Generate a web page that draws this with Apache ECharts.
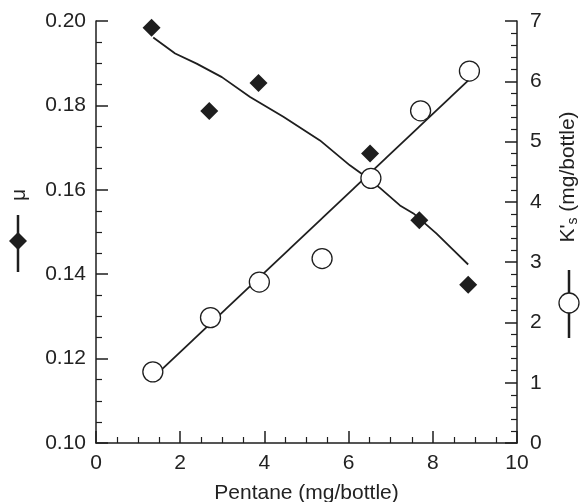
<!DOCTYPE html>
<html>
<head>
<meta charset="utf-8">
<script src="https://cdn.jsdelivr.net/npm/echarts@6/dist/echarts.min.js"></script>
<style>
  html, body { margin: 0; padding: 0; background: #fff; }
  #chart { width: 580px; height: 502px; }
</style>
</head>
<body>
<div id="chart"></div>
<script>
// 数据: μ 测量点 + 拟合曲线, K's 测量点 + 拟合直线
var muX = [1.32, 2.69, 3.86, 6.51, 7.68, 8.84];
var muY = [0.1984, 0.1787, 0.1853, 0.1686, 0.1528, 0.1375];

var muFitX = [1.36, 1.88, 2.39, 2.99, 3.66, 4.45, 5.32, 6.03, 6.31, 6.75, 7.22, 7.54, 8.09, 8.49, 8.84];
var muFitY = [0.1961, 0.1923, 0.1899, 0.1867, 0.1820, 0.1773, 0.1717, 0.1658, 0.1638, 0.1604, 0.1563, 0.1544, 0.1496, 0.1457, 0.1423];

var ksX = [1.35, 2.72, 3.88, 5.37, 6.53, 7.71, 8.87];
var ksY = [1.18, 2.08, 2.67, 3.06, 4.39, 5.51, 6.17];

var ksFitX = [1.35, 8.85];
var ksFitY = [1.08, 6.02];

var xTicks = [0, 2, 4, 6, 8, 10];

function zip(a, b) {
  return a.map(function (v, i) { return [v, b[i]]; });
}

var ink = '#1e1e1e';
var font = 'Liberation Sans, Arial, Helvetica, sans-serif';
var fs = 21;

var chart = echarts.init(document.getElementById('chart'));

var axisCommon = {
  axisLine: { show: true, lineStyle: { color: ink, width: 1.5 } },
  axisTick: { show: true, inside: true, length: 12, lineStyle: { color: ink, width: 1.5 } },
  minorTick: { show: true, length: 6, lineStyle: { color: ink, width: 1.2 } },
  splitLine: { show: false },
  minorSplitLine: { show: false },
  axisLabel: { color: '#222', fontSize: fs, fontFamily: font, margin: 10 }
};

var option = {
  backgroundColor: '#fff',
  animation: false,
  grid: { left: 96, right: 63, top: 21, bottom: 59, containLabel: false, outerBoundsMode: 'none' },
  xAxis: Object.assign({}, axisCommon, {
    type: 'value',
    min: xTicks[0],
    max: xTicks[xTicks.length - 1],
    interval: 2,
    minorTick: Object.assign({}, axisCommon.minorTick, { splitNumber: 4 }),
    axisLabel: Object.assign({}, axisCommon.axisLabel, { margin: 10 }),
    name: 'Pentane (mg/bottle)',
    nameLocation: 'middle',
    nameGap: 40,
    nameTextStyle: { color: '#222', fontSize: fs, fontFamily: font }
  }),
  yAxis: [
    Object.assign({}, axisCommon, {
      type: 'value',
      position: 'left',
      min: 0.10,
      max: 0.20,
      interval: 0.02,
      minorTick: Object.assign({}, axisCommon.minorTick, { splitNumber: 4 }),
      axisLabel: Object.assign({}, axisCommon.axisLabel, {
        formatter: function (v) { return v.toFixed(2); }
      })
    }),
    Object.assign({}, axisCommon, {
      type: 'value',
      position: 'right',
      min: 0,
      max: 7,
      interval: 1,
      minorTick: Object.assign({}, axisCommon.minorTick, { splitNumber: 5 }),
      axisLabel: Object.assign({}, axisCommon.axisLabel, { margin: 13 })
    })
  ],
  graphic: [
    // 左侧图例: μ
    {
      type: 'text', x: 19, y: 195, rotation: Math.PI / 2,
      style: { text: 'μ', fill: '#222', font: fs + 'px ' + font, align: 'center', verticalAlign: 'middle' }
    },
    { type: 'line', shape: { x1: 18, y1: 215, x2: 18, y2: 272 }, style: { stroke: ink, lineWidth: 2.5 } },
    {
      type: 'polygon',
      shape: { points: [[18, 232], [27, 241], [18, 250], [9, 241]] },
      style: { fill: ink }
    },
    // 右侧图例: K's
    {
      type: 'text', x: 568, y: 177, rotation: Math.PI / 2,
      style: {
        text: "{k|K'}{s|s}{k| (mg/bottle)}",
        align: 'center', verticalAlign: 'middle',
        rich: {
          k: { fill: '#222', fontSize: fs, fontFamily: font, lineHeight: 24, verticalAlign: 'middle' },
          s: { fill: '#222', fontSize: 14, fontFamily: font, lineHeight: 24, verticalAlign: 'bottom', padding: [9, 0, 0, 0] }
        }
      }
    },
    { type: 'line', shape: { x1: 569, y1: 270, x2: 569, y2: 338 }, style: { stroke: ink, lineWidth: 2.5 } },
    {
      type: 'circle', shape: { cx: 569, cy: 303, r: 10 },
      style: { fill: '#fff', stroke: ink, lineWidth: 1.3 }
    }
  ],
  series: [
    {
      name: 'mu fit',
      type: 'line',
      yAxisIndex: 0,
      data: zip(muFitX, muFitY),
      showSymbol: false,
      symbol: 'none',
      lineStyle: { color: ink, width: 1.8 },
      z: 2
    },
    {
      name: 'Ks fit',
      type: 'line',
      yAxisIndex: 1,
      data: zip(ksFitX, ksFitY),
      showSymbol: false,
      symbol: 'none',
      lineStyle: { color: ink, width: 1.8 },
      z: 2
    },
    {
      name: 'mu',
      type: 'scatter',
      yAxisIndex: 0,
      data: zip(muX, muY),
      symbol: 'diamond',
      symbolSize: 18,
      itemStyle: { color: ink, opacity: 1 },
      z: 5
    },
    {
      name: 'Ks',
      type: 'scatter',
      yAxisIndex: 1,
      data: zip(ksX, ksY),
      symbol: 'circle',
      symbolSize: 20,
      itemStyle: { color: '#fff', borderColor: ink, borderWidth: 1.3, opacity: 1 },
      z: 6
    }
  ]
};

chart.setOption(option);
</script>
</body>
</html>
